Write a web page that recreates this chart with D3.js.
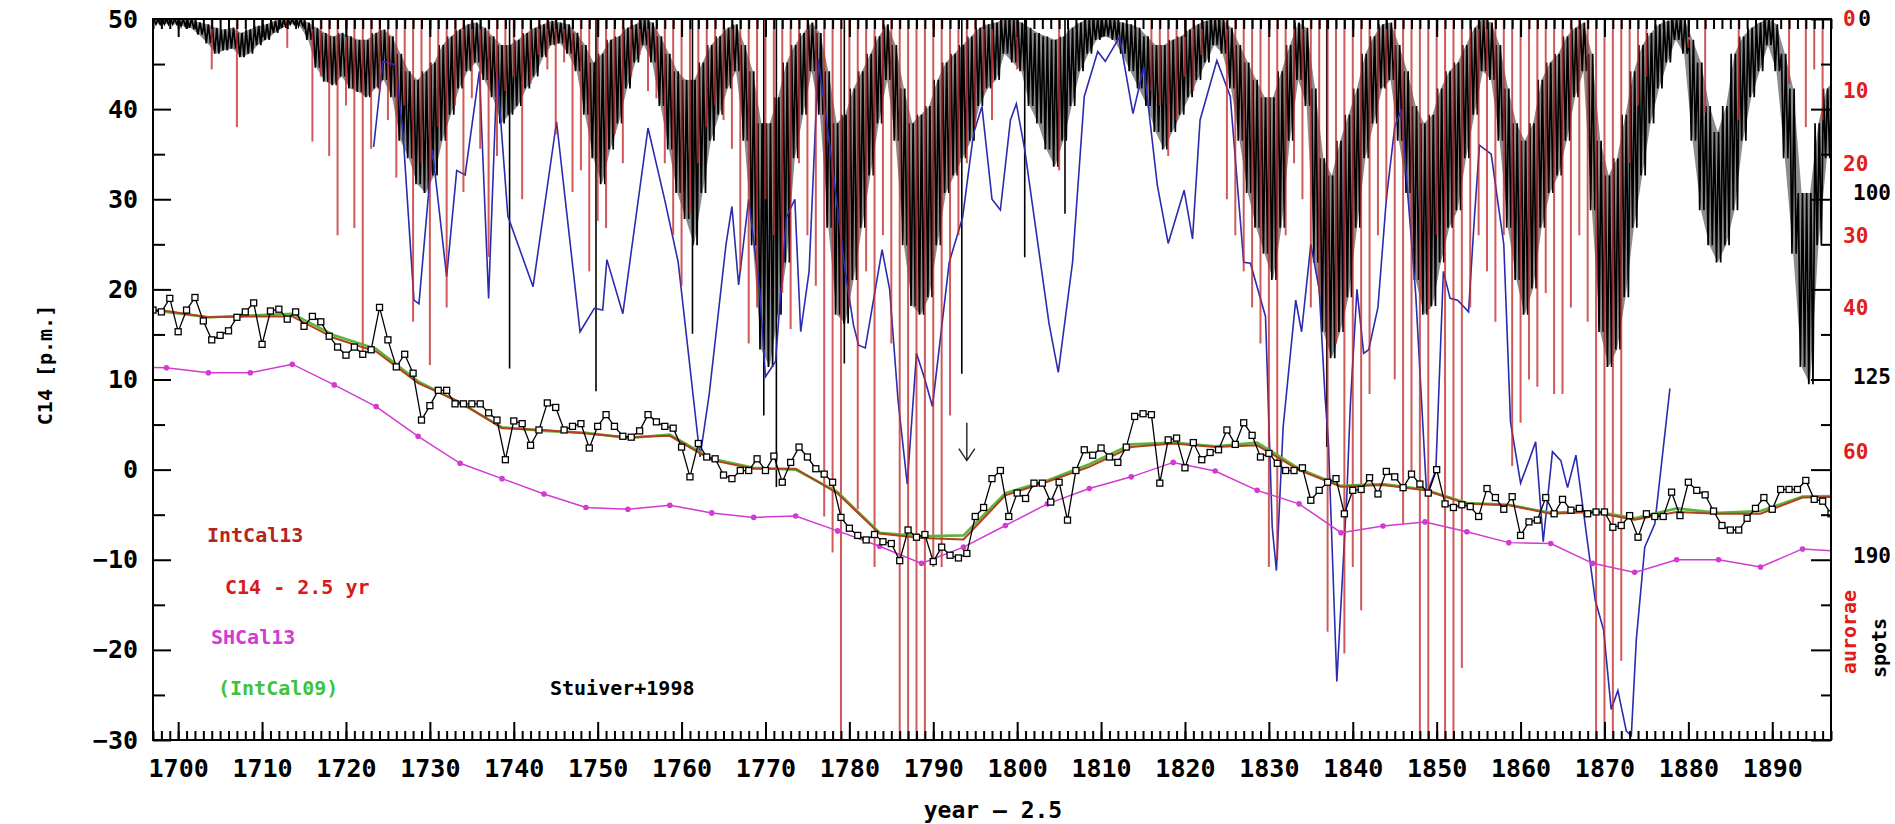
<!DOCTYPE html>
<html>
<head>
<meta charset="utf-8">
<script src="https://cdn.jsdelivr.net/npm/d3@7"></script>
<style>
  body { margin: 0; background: #fff; }
  svg text { font-family: "DejaVu Sans Mono", "Liberation Mono", monospace; font-weight: bold; }
</style>
</head>
<body>
<div id="graph-container"></div>
<script>
// ===================== DATA =====================
// Stuiver+1998 annual C14 (one value per year, 1697..1897)
const stuiverYears = d3.range(1697, 1898);
const stuiverValues = [
  17.7, 17.5, 19.0, 15.3, 17.7, 19.1, 16.5, 14.4, 14.9, 15.4,
  16.9, 17.5, 18.5, 13.9, 17.6, 17.8, 16.7, 17.5, 15.9, 17.0,
  16.4, 14.8, 13.6, 12.7, 13.6, 12.8, 13.3, 18.0, 14.4, 11.4,
  12.8, 10.7, 5.5, 7.1, 8.8, 8.8, 7.3, 7.3, 7.3, 7.3,
  6.3, 5.5, 1.1, 5.4, 5.1, 2.7, 4.4, 7.4, 6.9, 4.4,
  4.8, 5.1, 2.4, 4.8, 6.1, 4.8, 3.7, 3.6, 4.3, 6.1,
  5.3, 4.8, 4.6, 2.5, -0.8, 2.9, 1.4, 1.2, -0.6, -1.0,
  -0.1, -0.1, 1.2, -0.1, 1.5, -1.4, 0.8, 2.5, 1.4, 0.1,
  -0.5, -1.4, -5.3, -6.5, -7.3, -7.8, -7.2, -8.0, -8.2, -10.1,
  -6.7, -7.5, -7.2, -10.2, -8.6, -9.5, -9.8, -9.3, -5.2, -4.2,
  -1.0, -0.1, -5.2, -2.6, -3.2, -1.5, -1.5, -3.6, -1.4, -5.6,
  -0.1, 2.2, 1.6, 2.4, 1.4, 0.8, 2.5, 5.9, 6.2, 6.1,
  -1.5, 3.3, 3.5, 0.2, 3.0, 1.1, 1.9, 2.2, 4.4, 2.8,
  5.2, 3.8, 1.4, 1.8, 0.7, -0.1, -0.1, 0.2, -3.4, -2.3,
  -1.4, -1.0, -4.9, -2.3, -2.2, -0.9, -2.7, -0.2, -0.8, -2.0,
  -0.5, -1.6, -2.6, 0.0, -3.8, -4.2, -3.9, -4.1, -5.2, -2.1,
  -3.1, -4.4, -3.0, -7.3, -5.8, -5.6, -3.1, -4.9, -3.3, -4.5,
  -4.3, -4.9, -4.7, -4.7, -6.4, -6.2, -5.1, -7.5, -4.9, -5.2,
  -5.2, -2.5, -5.1, -1.4, -2.3, -2.8, -4.6, -6.2, -6.7, -6.7,
  -5.4, -4.3, -3.1, -4.4, -2.2, -2.2, -2.2, -1.2, -3.3, -3.5,
  -4.9
];

// calibration curves, 5-year grid
const calYears = [
  1693.6, 1698.6, 1703.6, 1708.6, 1713.6, 1718.6, 1723.6, 1728.6, 1733.6, 1738.6,
  1743.6, 1748.6, 1753.6, 1758.6, 1763.6, 1768.6, 1773.6, 1778.6, 1783.6, 1788.6,
  1793.6, 1798.6, 1803.6, 1808.6, 1813.6, 1818.6, 1823.6, 1828.6, 1833.6, 1838.6,
  1843.6, 1848.6, 1853.6, 1858.6, 1863.6, 1868.6, 1873.6, 1878.6, 1883.6, 1888.6,
  1893.6, 1898.6
];
const intcal13 = [
  18.0, 17.6, 16.9, 17.0, 17.0, 14.6, 13.1, 9.6, 7.5, 4.6,
  4.4, 4.0, 3.6, 3.75, 1.05, 0.1, 0.1, -2.65, -7.1, -7.6,
  -7.75, -2.85, -1.35, 0.3, 2.5, 2.9, 2.5, 2.7, -0.05, -1.9,
  -1.7, -2.3, -3.8, -3.95, -4.9, -4.7, -5.55, -4.7, -4.9, -4.9,
  -3.1, -3.0
];
const intcal09 = [
  18.0, 17.5, 16.9, 17.1, 17.3, 14.9, 13.4, 9.8, 7.4, 4.7,
  4.3, 4.1, 3.5, 3.9, 1.2, 0.2, 0.0, -2.5, -7.0, -7.4,
  -7.3, -2.6, -1.2, 0.6, 2.8, 3.0, 2.6, 3.0, 0.1, -1.8,
  -1.6, -2.2, -3.7, -3.9, -4.8, -4.6, -5.4, -4.3, -4.8, -4.6,
  -3.0, -2.9
];
const shcal13 = [
  11.4, 11.3, 10.75, 10.75, 11.7, 9.4, 7.0, 3.7, 0.7, -1.0,
  -2.7, -4.2, -4.4, -3.95, -4.8, -5.3, -5.15, -6.8, -8.5, -10.4,
  -8.6, -6.2, -3.8, -2.1, -0.8, 0.8, -0.15, -2.3, -3.8, -7.0,
  -6.25, -5.8, -6.9, -8.1, -8.2, -10.4, -11.4, -10.0, -10.0, -10.8,
  -8.8, -9.1
];

// blue series (no legend entry)
const blueYears = [
  1723.3, 1724.4, 1725.9, 1726.8, 1728.1, 1728.7, 1730.3, 1732.0, 1733.2, 1734.2,
  1735.9, 1737.0, 1738.0, 1739.3, 1742.3, 1745.1, 1747.9, 1749.6, 1750.6, 1751.1,
  1753.0, 1756.0, 1758.0, 1759.6, 1762.2, 1763.3, 1765.3, 1766.0, 1766.8, 1768.0,
  1769.3, 1770.0, 1771.2, 1772.5, 1773.5, 1774.2, 1775.2, 1776.3, 1777.8, 1779.5,
  1780.5, 1781.1, 1781.9, 1783.9, 1784.8, 1785.8, 1786.9, 1788.0, 1789.0, 1789.9,
  1791.9, 1793.5, 1794.8, 1795.8, 1797.0, 1798.0, 1799.2, 1799.9, 1800.9, 1803.8,
  1804.9, 1806.6, 1808.0, 1809.6, 1810.5, 1812.2, 1813.8, 1815.1, 1816.7, 1818.0,
  1819.9, 1820.9, 1821.8, 1823.8, 1825.4, 1827.0, 1827.8, 1829.6, 1830.4, 1830.9,
  1831.7, 1833.2, 1833.9, 1835.0, 1836.0, 1836.7, 1837.1, 1838.1, 1839.3, 1839.7,
  1840.5, 1841.3, 1841.9, 1843.0, 1844.0, 1845.0, 1845.8, 1846.6, 1847.5, 1848.8,
  1849.9, 1850.8, 1851.6, 1852.5, 1853.8, 1854.5, 1855.1, 1856.5, 1858.0, 1858.8,
  1860.0, 1861.0, 1861.8, 1862.7, 1863.8, 1864.8, 1865.6, 1866.6, 1867.4, 1868.9,
  1869.9, 1870.8, 1871.6, 1872.6, 1873.2, 1873.8, 1874.8, 1876.0, 1877.2, 1877.8
];
const blueValues = [
  35.8, 45.3, 44.9, 37.3, 18.8, 18.4, 35.5, 21.4, 33.2, 32.7,
  44.2, 19.0, 44.2, 28.1, 20.3, 38.6, 15.3, 17.9, 17.7, 23.3,
  17.3, 37.9, 29.9, 23.0, 1.4, 8.4, 25.0, 29.2, 20.5, 30.0,
  20.0, 10.3, 12.0, 28.0, 30.0, 15.3, 22.0, 45.5, 35.0, 22.0,
  16.0, 13.8, 13.5, 24.4, 20.0, 7.7, -1.6, 12.9, 10.0, 7.0,
  23.0, 28.0, 37.3, 40.3, 30.0, 28.8, 38.8, 40.6, 35.5, 16.2,
  10.8, 23.0, 41.4, 46.4, 45.3, 48.0, 39.5, 44.7, 31.6, 25.1,
  31.0, 25.6, 38.8, 45.4, 41.4, 23.0, 22.9, 17.0, -6.4, -11.2,
  4.7, 18.8, 15.3, 25.0, 20.0, 8.0, 3.0, -23.5, -2.7, 7.0,
  20.0, 12.9, 13.3, 18.0, 30.0, 38.0, 40.0, 30.0, 19.5, -2.7,
  -0.1, 22.0, 19.0, 18.8, 17.5, 28.0, 36.0, 35.0, 25.0, 5.3,
  -1.5, 1.0, 3.1, -8.0, 2.0, 1.0, -2.0, 1.6, -4.0, -14.5,
  -17.8, -26.6, -24.5, -29.0, -29.5, -18.8, -8.6, -6.0, 4.0, 9.0
];

// aurorae per year, 1700..1897 (right red scale)
const auroraYears = d3.range(1700, 1898);
const auroraCounts = [
  0, 0, 0, 0, 7, 0, 0, 15, 0, 0,
  0, 0, 0, 4, 0, 0, 17, 8, 19, 30,
  12, 29, 46, 18, 10, 14, 22, 12, 42, 20,
  48, 15, 40, 12, 24, 11, 18, 33, 19, 10,
  8, 25, 9, 5, 7, 16, 6, 24, 21, 35,
  28, 29, 16, 20, 8, 5, 10, 11, 20, 30,
  37, 27, 20, 15, 12, 14, 18, 35, 45, 40,
  25, 30, 38, 43, 20, 30, 37, 69, 74, 100,
  40, 68, 35, 76, 30, 45, 100, 100, 100, 100,
  76, 76, 55, 30, 20, 15, 10, 14, 0, 0,
  7, 0, 0, 0, 0, 21, 0, 0, 0, 0,
  0, 0, 0, 0, 0, 0, 10, 12, 19, 14,
  8, 10, 5, 0, 0, 25, 30, 35, 40, 45,
  76, 75, 30, 20, 25, 40, 38, 85, 45, 88,
  76, 82, 52, 30, 25, 50, 70, 63, 100, 100,
  30, 100, 100, 90, 40, 30, 35, 42, 30, 62,
  56, 50, 51, 38, 52, 52, 40, 30, 42, 100,
  100, 100, 89, 20, 12, 8, 0, 0, 0, 0,
  4, 0, 13, 0, 0, 0, 14, 0, 0, 0,
  0, 0, 9, 0, 15, 7, 14, 0
];

// sunspots: yearly range of monthly values, 1697..1897 (right black scale)
const spotYears = d3.range(1697, 1898);
const spotLow = [
  0, 0, 0, 0, 0, 2, 3, 5, 6, 5,
  8, 6, 4, 3, 1, 0, 0, 0, 2, 5,
  8, 10, 8, 10, 12, 12, 8, 6, 10, 20,
  30, 35, 30, 25, 15, 10, 6, 3, 2, 5,
  10, 15, 15, 12, 8, 5, 3, 1, 2, 3,
  8, 15, 25, 20, 12, 10, 5, 3, 0, 2,
  10, 20, 30, 35, 35, 25, 15, 10, 5, 3,
  15, 30, 60, 60, 45, 25, 15, 8, 2, 8,
  30, 60, 55, 40, 30, 20, 10, 3, 15, 40,
  60, 55, 50, 35, 25, 20, 15, 10, 5, 3,
  2, 0, 0, 2, 5, 8, 10, 12, 10, 5,
  2, 0, 0, 0, 0, 2, 3, 5, 10, 15,
  15, 12, 10, 6, 3, 1, 0, 0, 5, 15,
  25, 35, 45, 45, 30, 15, 2, 5, 40, 80,
  90, 70, 55, 40, 20, 10, 3, 2, 15, 30,
  50, 60, 55, 40, 30, 25, 15, 5, 0, 2,
  15, 40, 60, 70, 60, 35, 25, 20, 10, 5,
  2, 20, 70, 90, 80, 55, 30, 15, 8, 3,
  1, 0, 0, 12, 25, 50, 65, 50, 20, 10,
  5, 2, 0, 3, 20, 40, 100, 100, 60, 40,
  35
];
const spotHigh = [
  3, 3, 3, 4, 5, 9, 14, 20, 18, 17,
  22, 20, 15, 12, 8, 5, 3, 4, 12, 28,
  36, 38, 33, 40, 42, 45, 40, 35, 45, 70,
  80, 95, 100, 90, 70, 55, 40, 30, 25, 35,
  45, 60, 55, 50, 40, 33, 22, 15, 14, 20,
  30, 55, 80, 95, 75, 60, 40, 25, 15, 25,
  50, 75, 100, 115, 130, 100, 70, 55, 40, 30,
  70, 130, 190, 200, 170, 140, 80, 55, 30, 55,
  120, 170, 175, 150, 120, 90, 60, 35, 70, 130,
  165, 170, 160, 130, 100, 90, 80, 70, 50, 40,
  35, 20, 25, 30, 50, 60, 75, 85, 70, 50,
  30, 20, 12, 10, 12, 20, 30, 40, 50, 65,
  75, 65, 55, 45, 35, 25, 15, 20, 40, 70,
  100, 120, 135, 150, 120, 70, 35, 50, 140, 180,
  195, 180, 160, 120, 80, 60, 40, 35, 70, 100,
  150, 170, 165, 140, 120, 110, 80, 55, 30, 35,
  70, 120, 150, 170, 155, 120, 100, 90, 70, 45,
  30, 110, 180, 200, 190, 160, 120, 90, 60, 40,
  25, 12, 20, 70, 110, 130, 140, 130, 110, 70,
  45, 30, 15, 30, 80, 135, 200, 210, 130, 80,
  70
];
// single deep monthly spikes
const spikeYears = [1739.5, 1749.8, 1761.3, 1769.8, 1771.3, 1779.4, 1793.4, 1800.9, 1805.7, 1836.9];
const spikeSpots = [201, 214, 181, 228, 269, 198, 204, 137, 112, 246];

// axes / labels
const xTicks = d3.range(1700, 1891, 10);
const yTicks = [-30, -20, -10, 0, 10, 20, 30, 40, 50];
const auroraTicks = [0, 10, 20, 30, 40, 60];
const spotTicks = [0, 100, 125, 190];

const legendNames  = ["IntCal13", "C14  -  2.5 yr", "SHCal13", "(IntCal09)"];
const legendColors = ["#b3261e", "#d81a1a", "#d23ad2", "#3cc43c"];

// ===================== SETUP =====================
const W = 1895, H = 824;
const plot = { left: 153, right: 1831, top: 19, bottom: 740 };

const svg = d3.select("#graph-container").append("svg")
  .attr("width", W).attr("height", H);

const x = d3.scaleLinear().domain([1697, 1897]).range([plot.left, plot.right]);
const y = d3.scaleLinear().domain([-30, 50]).range([plot.bottom, plot.top]);
// right hand scales
const auroraY = d3.scaleLinear().domain([0, 100]).range([y(50), y(-30)]);
const spotY = d3.scaleLinear().domain([0, 100]).range([y(50), y(30.7)]);
const spotTickY = d3.scaleLinear().domain([0, 100, 125, 190])
  .range([y(50), y(30.7), y(10.3), y(-9.5)]);

svg.append("defs").append("clipPath").attr("id", "clip")
  .append("rect")
  .attr("x", plot.left).attr("y", plot.top)
  .attr("width", plot.right - plot.left).attr("height", plot.bottom - plot.top);

const g = svg.append("g").attr("clip-path", "url(#clip)");

// ===================== SUNSPOTS (black) =====================
// darker core of the band
const spotArea = d3.area()
  .x((d, i) => x(spotYears[i] + 0.5))
  .y0((d, i) => spotY(spotLow[i]))
  .y1((d, i) => spotY(spotHigh[i]));
g.append("path")
  .datum(spotYears)
  .attr("d", spotArea)
  .attr("fill", "#000")
  .attr("fill-opacity", 0.45);

// the monthly jitter is drawn as a zig-zag between each year's low and high
let zig = "";
spotYears.forEach((yr, i) => {
  const lo = spotY(spotLow[i]), hi = spotY(spotHigh[i]);
  [0.1, 0.35, 0.6, 0.85].forEach((f, k) => {
    zig += (i === 0 && k === 0 ? "M" : "L") + x(yr + f) + "," + (k % 2 ? hi : lo);
  });
});
g.append("path")
  .attr("d", zig)
  .attr("fill", "none")
  .attr("stroke", "#000")
  .attr("stroke-width", 1.7);

g.selectAll(".spike")
  .data(spikeYears)
  .enter().append("line")
  .attr("x1", d => x(d)).attr("x2", d => x(d))
  .attr("y1", spotY(0))
  .attr("y2", (d, i) => spotY(spikeSpots[i]))
  .attr("stroke", "#000").attr("stroke-width", 1.6);

// ===================== BLUE =====================
g.append("path")
  .datum(blueYears)
  .attr("d", d3.line().x(d => x(d)).y((d, i) => y(blueValues[i])))
  .attr("fill", "none")
  .attr("stroke", "#2b2bb0")
  .attr("stroke-width", 1.6);

// ===================== AURORAE (red) =====================
g.selectAll(".aurora")
  .data(auroraYears.filter((d, i) => auroraCounts[i] > 0))
  .enter().append("line")
  .attr("x1", d => x(d)).attr("x2", d => x(d))
  .attr("y1", auroraY(0))
  .attr("y2", d => auroraY(auroraCounts[d - 1700]))
  .attr("stroke", "#c42a2a")
  .attr("stroke-opacity", 0.78)
  .attr("stroke-width", 2);

// ===================== C14 CURVES =====================
const calLine = vals => d3.line().x(d => x(d)).y((d, i) => y(vals[i]));

g.append("path").datum(calYears).attr("d", calLine(shcal13))
  .attr("fill", "none").attr("stroke", "#d23ad2").attr("stroke-width", 1.5);
g.selectAll(".shdot").data(calYears).enter().append("circle")
  .attr("cx", d => x(d)).attr("cy", (d, i) => y(shcal13[i]))
  .attr("r", 2.8).attr("fill", "#d23ad2");

g.append("path").datum(calYears).attr("d", calLine(intcal09))
  .attr("fill", "none").attr("stroke", "#5cb43a").attr("stroke-width", 2.6);
g.append("path").datum(calYears).attr("d", calLine(intcal13))
  .attr("fill", "none").attr("stroke", "#b0401e").attr("stroke-width", 2);

g.append("path").datum(stuiverYears)
  .attr("d", d3.line().x(d => x(d)).y((d, i) => y(stuiverValues[i])))
  .attr("fill", "none").attr("stroke", "#000").attr("stroke-width", 1.3);
g.selectAll(".stu").data(stuiverYears).enter().append("rect")
  .attr("x", d => x(d) - 3)
  .attr("y", (d, i) => y(stuiverValues[i]) - 3)
  .attr("width", 6).attr("height", 6)
  .attr("fill", "#fff").attr("stroke", "#000").attr("stroke-width", 1.3);

// arrow near 1794
const arrowYear = 1794, arrowFrom = 5.2, arrowTo = 1.0;
svg.append("path")
  .attr("d", `M${x(arrowYear)},${y(arrowFrom)} L${x(arrowYear)},${y(arrowTo)}
              M${x(arrowYear) - 8},${y(arrowTo) - 12} L${x(arrowYear)},${y(arrowTo)} L${x(arrowYear) + 8},${y(arrowTo) - 12}`)
  .attr("fill", "none").attr("stroke", "#222").attr("stroke-width", 1.4);

// ===================== AXES =====================
const styleAxis = sel => {
  sel.select(".domain").remove();
  sel.selectAll("line").attr("stroke", "#000").attr("stroke-width", 2);
};

svg.append("g").attr("transform", `translate(0,${plot.bottom})`)
  .call(d3.axisBottom(x).tickValues(d3.range(1697, 1898)).tickSize(-9).tickFormat(""))
  .call(styleAxis);
svg.append("g").attr("transform", `translate(0,${plot.bottom})`)
  .call(d3.axisBottom(x).tickValues(xTicks).tickSize(-18).tickPadding(19).tickFormat(d3.format("d")))
  .call(styleAxis)
  .selectAll("text").attr("font-size", 25).attr("fill", "#000");

svg.append("g").attr("transform", `translate(0,${plot.top})`)
  .call(d3.axisTop(x).tickValues(d3.range(1697, 1898)).tickSize(-10).tickFormat(""))
  .call(styleAxis);
svg.append("g").attr("transform", `translate(0,${plot.top})`)
  .call(d3.axisTop(x).tickValues(xTicks).tickSize(-18).tickFormat(""))
  .call(styleAxis);

svg.append("g").attr("transform", `translate(${plot.left},0)`)
  .call(d3.axisLeft(y).tickValues(d3.range(-25, 50, 10)).tickSize(-12).tickFormat(""))
  .call(styleAxis);
svg.append("g").attr("transform", `translate(${plot.left},0)`)
  .call(d3.axisLeft(y).tickValues(yTicks).tickSize(-18).tickPadding(15))
  .call(styleAxis)
  .selectAll("text").attr("font-size", 25).attr("fill", "#000");

svg.append("g").attr("transform", `translate(${plot.right},0)`)
  .call(d3.axisRight(y).tickValues(d3.range(-25, 50, 10)).tickSize(-10).tickFormat(""))
  .call(styleAxis);
svg.append("g").attr("transform", `translate(${plot.right},0)`)
  .call(d3.axisRight(y).tickValues(yTicks).tickSize(-20).tickFormat(""))
  .call(styleAxis);

// frame
svg.append("rect")
  .attr("x", plot.left).attr("y", plot.top)
  .attr("width", plot.right - plot.left).attr("height", plot.bottom - plot.top)
  .attr("fill", "none").attr("stroke", "#000").attr("stroke-width", 2);

// right hand labels
svg.selectAll(".aurTick").data(auroraTicks).enter().append("text")
  .attr("x", 1843).attr("y", d => auroraY(d)).attr("dy", "0.35em")
  .attr("font-size", 21).attr("fill", "#e01c1c")
  .text(d => d);
svg.selectAll(".spotTick").data(spotTicks).enter().append("text")
  .attr("x", d => d === 0 ? 1871 : 1891).attr("text-anchor", "end")
  .attr("y", d => spotTickY(d)).attr("dy", "0.35em")
  .attr("font-size", 21).attr("fill", "#000")
  .text(d => d);

svg.append("text")
  .attr("transform", "translate(1856,632) rotate(-90)")
  .attr("text-anchor", "middle")
  .attr("font-size", 20).attr("fill", "#e01c1c")
  .text("aurorae");
svg.append("text")
  .attr("transform", "translate(1886,648) rotate(-90)")
  .attr("text-anchor", "middle")
  .attr("font-size", 20).attr("fill", "#000")
  .text("spots");

// axis titles
svg.append("text")
  .attr("x", 993).attr("y", 818)
  .attr("text-anchor", "middle")
  .attr("font-size", 23).attr("fill", "#000")
  .text("year  \u2013  2.5");
svg.append("text")
  .attr("transform", "translate(52,365) rotate(-90)")
  .attr("text-anchor", "middle")
  .attr("font-size", 20).attr("fill", "#000")
  .text("C14  [p.m.]");

// legend
const legendX = [207, 225, 211, 218];
const legendY = [535, 587, 637, 688];
svg.selectAll(".legend").data(legendNames).enter().append("text")
  .attr("x", (d, i) => legendX[i]).attr("y", (d, i) => legendY[i])
  .attr("dy", "0.35em")
  .attr("font-size", 20)
  .attr("fill", (d, i) => legendColors[i])
  .text(d => d);
svg.append("text")
  .attr("x", 550).attr("y", 688).attr("dy", "0.35em")
  .attr("font-size", 20).attr("fill", "#000")
  .text("Stuiver+1998");
</script>
</body>
</html>
